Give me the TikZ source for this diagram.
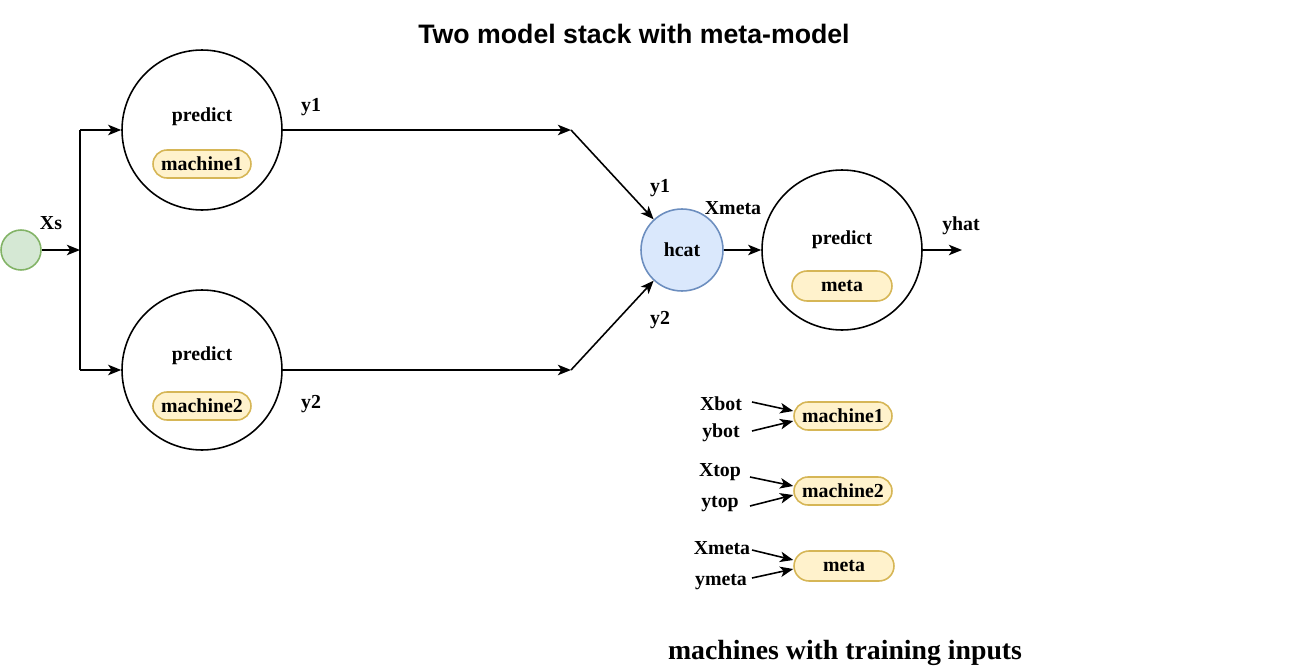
\documentclass[tikz,border=0pt]{standalone}
\usepackage{fontspec}
\setmainfont{Liberation Serif}
\newfontfamily\titlefont{Liberation Sans}
\usetikzlibrary{arrows.meta,calc}
\definecolor{gfill}{HTML}{D5E8D4}
\definecolor{gline}{HTML}{82B366}
\definecolor{bfill}{HTML}{DAE8FC}
\definecolor{bline}{HTML}{6C8EBF}
\definecolor{yfill}{HTML}{FFF2CC}
\definecolor{yline}{HTML}{D6B656}
\begin{document}
\begin{tikzpicture}[x=0.02cm,y=-0.02cm,
  every node/.style={font=\fontsize{11.3}{13}\selectfont\bfseries, inner sep=0pt},
  big/.style={circle, draw, line width=0.9pt, minimum size=3.2cm},
  pill/.style={draw=yline, fill=yfill, rounded corners=0.28cm, minimum width=1.96cm, minimum height=0.56cm, line width=0.9pt},
  conn/.style={line width=0.9pt, -{Stealth[length=7.5pt,width=6pt,inset=2pt]}},
  plain/.style={line width=0.9pt}
]
\useasboundingbox (0,0) rectangle (1302,666);
% title
\node[font=\titlefont\fontsize{15.2}{18}\selectfont\bfseries] (title) at (634,34) {Two model stack with meta-model};
% source
\node[circle, draw=gline, fill=gfill, minimum size=0.8cm, line width=0.9pt] (src) at (21,250) {};
\node (xs) at (51,223) {Xs};
\coordinate (split) at (80,250);
\coordinate (top) at (80,130);
\coordinate (bot) at (80,370);
% model circles
\node[big] (c1) at (202,130) {};
\node (p1) at (202,117) {predict};
\node[pill] (m1) at (202,164) {machine1};
\node[big] (c2) at (202,370) {};
\node (p2) at (202,356) {predict};
\node[pill] (m2) at (202,406) {machine2};
\node (ly1) at (311,107) {y1};
\node (ly2) at (311,404) {y2};
\coordinate (j1) at (571,130);
\coordinate (j2) at (571,370);
% hcat
\node[circle, draw=bline, fill=bfill, minimum size=1.64cm, line width=0.9pt] (hcat) at (682,250) {hcat};
\node (ly1b) at (660,188) {y1};
\node (ly2b) at (660,320) {y2};
\node (lxm) at (733,208) {Xmeta};
% meta circle
\node[big] (c3) at (842,250) {};
\node (p3) at (842,240) {predict};
\node[pill, minimum width=2cm, minimum height=0.6cm, rounded corners=0.3cm] (m3) at (842,286) {meta};
\coordinate (out) at (962,250);
\node (lyhat) at (961,226) {yhat};
% connectors
\draw[conn] (src) -- (split);
\draw[plain] (top) -- (bot);
\draw[conn] (top) -- (c1);
\draw[conn] (bot) -- (c2);
\draw[conn] (c1) -- (j1);
\draw[conn] (c2) -- (j2);
\draw[conn] (j1) -- (hcat);
\draw[conn] (j2) -- (hcat);
\draw[conn] (hcat) -- (c3);
\draw[conn] (c3) -- (out);
% legend
\node[pill] (lm1) at (843,416) {machine1};
\node[pill] (lm2) at (843,491) {machine2};
\node[pill, minimum width=2cm, minimum height=0.6cm, rounded corners=0.3cm] (lm3) at (844,566) {meta};
\node (xbot) at (721,404) {Xbot};
\node (ybot) at (721,433) {ybot};
\node (xtop) at (720,472) {Xtop};
\node (ytop) at (720,504) {ytop};
\node (xmeta) at (722,548) {Xmeta};
\node (ymeta) at (721,582) {ymeta};
\coordinate (sxbot) at (752,402);
\coordinate (sybot) at (752,431);
\coordinate (sxtop) at (750,477);
\coordinate (sytop) at (750,506);
\coordinate (sxmeta) at (752,550);
\coordinate (symeta) at (752,578);
\draw[conn] (sxbot) -- ($(lm1.west)+(0,-5)$);
\draw[conn] (sybot) -- ($(lm1.west)+(0,5)$);
\draw[conn] (sxtop) -- ($(lm2.west)+(0,-5)$);
\draw[conn] (sytop) -- ($(lm2.west)+(0,4)$);
\draw[conn] (sxmeta) -- ($(lm3.west)+(0,-6)$);
\draw[conn] (symeta) -- ($(lm3.west)+(0,3)$);
\node[font=\fontsize{15.8}{19}\selectfont\bfseries] (foot) at (845,653) {machines with training inputs};
\end{tikzpicture}
\end{document}
